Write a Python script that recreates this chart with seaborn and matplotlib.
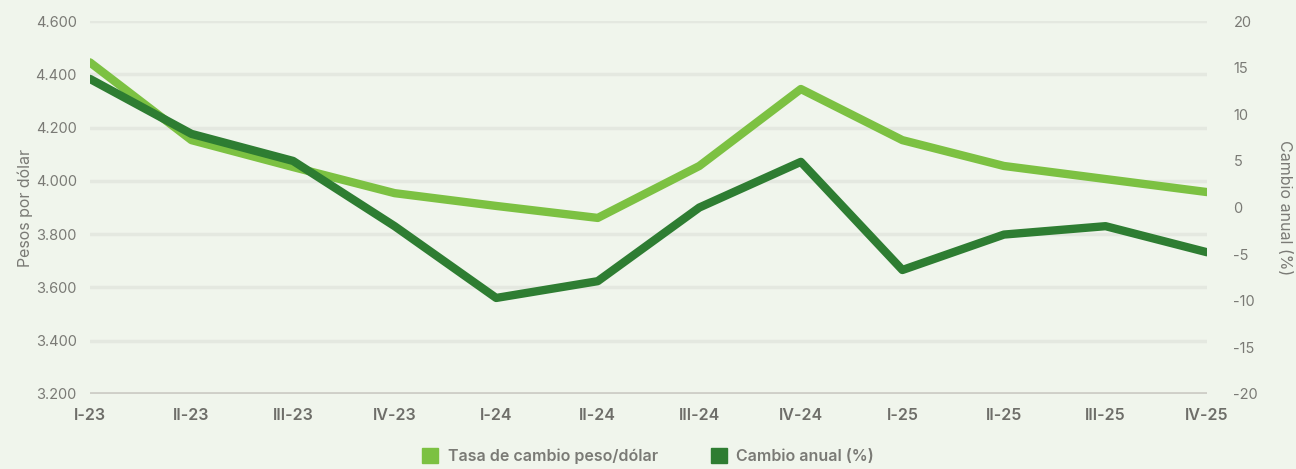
import numpy as np
import pandas as pd
import matplotlib
matplotlib.use("Agg")
import matplotlib.pyplot as plt
import seaborn as sns
from matplotlib.patches import Patch
from matplotlib.ticker import FuncFormatter

# Data
trimestres = ["I-23", "II-23", "III-23", "IV-23", "I-24", "II-24",
              "III-24", "IV-24", "I-25", "II-25", "III-25", "IV-25"]
tasa_cambio = [4445, 4153, 4052, 3954, 3906, 3861, 4056, 4345, 4153, 4056, 4007, 3958]
cambio_anual = [13.8, 7.9, 5.0, -2.0, -9.7, -7.9, 0.0, 4.9, -6.7, -2.9, -2.0, -4.8]

verde_claro = "#7cc142"
verde_oscuro = "#2e7d32"
fondo = "#f0f5ec"
gris = "#7a7a75"

sns.set_theme(style="white")
plt.rcParams["font.family"] = ["Inter", "DejaVu Sans"]

df = pd.DataFrame({"x": np.arange(len(trimestres)),
                   "tasa": tasa_cambio, "anual": cambio_anual})

fig = plt.figure(figsize=(12.96, 4.69), dpi=100, facecolor=fondo)
ax = fig.add_axes([0.0694, 0.160, 0.8620, 0.795])
ax.set_facecolor(fondo)
ax2 = ax.twinx()

# grid
for v in [3400, 3600, 3800, 4000, 4200, 4400, 4600]:
    ax.axhline(v, color="#e4e8e0", lw=2.5, zorder=0)
ax.axhline(3200, color="#cfcfc8", lw=3.5, zorder=0)

sns.lineplot(data=df, x="x", y="tasa", ax=ax, color=verde_claro, lw=6, zorder=3)
sns.lineplot(data=df, x="x", y="anual", ax=ax2, color=verde_oscuro, lw=6, zorder=4)
ax2.set_zorder(ax.get_zorder() + 1)
ax2.patch.set_visible(False)

ax.set_xlim(0, 11)
ax.set_ylim(3200, 4600)
ax2.set_ylim(-20, 20)
ax.set_yticks(np.arange(3200, 4601, 200))
ax.yaxis.set_major_formatter(FuncFormatter(lambda v, p: f"{v/1000:.3f}"))
ax2.set_yticks(np.arange(-20, 21, 5))
ax2.yaxis.set_major_formatter(FuncFormatter(lambda v, p: f"{int(round(v))}"))

ax.set_xticks(df["x"])
ax.set_xticklabels(trimestres, fontweight="semibold")

for a in (ax, ax2):
    for s in a.spines.values():
        s.set_visible(False)
    a.tick_params(length=0, colors=gris, labelsize=10.5)
ax.tick_params(axis="x", pad=10, labelsize=11.5, colors="#6e6e69")
ax.tick_params(axis="y", pad=9.5)
ax2.tick_params(axis="y", pad=19)

ax.set_xlabel("")
ax.set_ylabel("Pesos por dólar", color=gris, fontsize=11.5)
ax.yaxis.set_label_coords(-0.051, 0.5)
ax2.set_ylabel("Cambio anual (%)", color=gris, fontsize=11.5, rotation=270, va="bottom")
ax2.yaxis.set_label_coords(1.063, 0.5)

handles = [Patch(facecolor=verde_claro, edgecolor=verde_claro, label="Tasa de cambio peso/dólar"),
           Patch(facecolor=verde_oscuro, edgecolor=verde_oscuro, label="Cambio anual (%)")]
leg = fig.legend(handles=handles, loc="lower center", bbox_to_anchor=(0.5, -0.02), ncol=2,
                 frameon=False, fontsize=11.5, handlelength=1.0, handleheight=1.0,
                 columnspacing=3.3, handletextpad=0.6)
for t in leg.get_texts():
    t.set_color(gris)
    t.set_fontweight("semibold")

fig.savefig("out.png", dpi=100, facecolor=fondo)
